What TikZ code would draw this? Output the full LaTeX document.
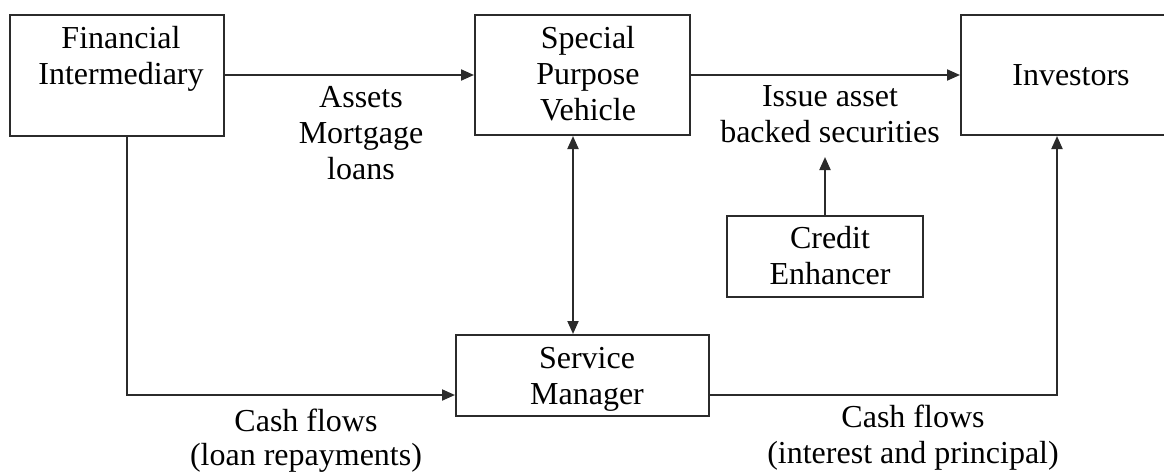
\documentclass[tikz,border=0pt]{standalone}
\usepackage{fontspec}
\setmainfont{Liberation Serif}
\usetikzlibrary{arrows.meta}
\newcommand{\mylines}[1]{\begin{tabular}[t]{@{}c@{}}#1\end{tabular}}
\definecolor{ink}{HTML}{2B2B2B}
\begin{document}
\begin{tikzpicture}[x=1pt,y=-1pt,
  box/.style={draw=ink,line width=2pt,inner sep=0pt},
  txt/.style={anchor=base,inner sep=0pt,text=black,font=\fontsize{32}{36}\selectfont},
  conn/.style={draw=ink,line width=2pt},
  tip/.style={-{Triangle[length=13pt,width=11pt]}}]
\useasboundingbox (0,0) rectangle (1164,472);
\clip (0,0) rectangle (1164,472);
% boxes
\node[box,minimum width=214pt,minimum height=121pt] (fi) at (117,75.5) {};
\node[box,minimum width=215pt,minimum height=120pt] (spv) at (582.5,75) {};
\node[box,minimum width=205pt,minimum height=120pt] (inv) at (1063.5,75) {};
\node[box,minimum width=196pt,minimum height=81pt] (ce) at (825,256.5) {};
\node[box,minimum width=253pt,minimum height=81pt] (sm) at (582.5,375.5) {};
% box texts
\node[txt] (fit) at (121,48) {\mylines{Financial\\Intermediary}};
\node[txt] (spvt) at (588,48) {\mylines{Special\\Purpose\\Vehicle}};
\node[txt] (invt) at (1071,85) {Investors};
\node[txt] (cet) at (830,248) {\mylines{Credit\\Enhancer}};
\node[txt] (smt) at (587,368) {\mylines{Service\\Manager}};
% labels
\node[txt] (l1) at (361,107) {\mylines{Assets\\Mortgage\\loans}};
\node[txt] (l2) at (830,106) {\mylines{Issue asset\\backed securities}};
\node[txt,font=\fontsize{32}{34}\selectfont] (l3) at (306,431) {\mylines{Cash flows\\(loan repayments)}};
\node[txt] (l4) at (913,427) {\mylines{Cash flows\\(interest and principal)}};
% helper coordinates
\coordinate (vx) at (573,0);
\coordinate (fx) at (127,0);
\coordinate (cy) at (0,395);
\coordinate (ix) at (1057,0);
\coordinate (ceend) at (825,157);
% connectors
\draw[conn,tip] (spv.west -| fi.east) -- (spv.west);
\draw[conn,tip] (spv.east) -- (inv.west);
\draw[conn,tip] (ce.north) -- (ceend);
\draw[conn,{Triangle[length=13pt,width=11pt]}-{Triangle[length=13pt,width=11pt]}] (spv.south -| vx) -- (sm.north -| vx);
\draw[conn,tip] (fi.south -| fx) |- (sm.west |- cy);
\draw[conn,tip] (sm.east |- cy) -| (inv.south -| ix);
\end{tikzpicture}
\end{document}
